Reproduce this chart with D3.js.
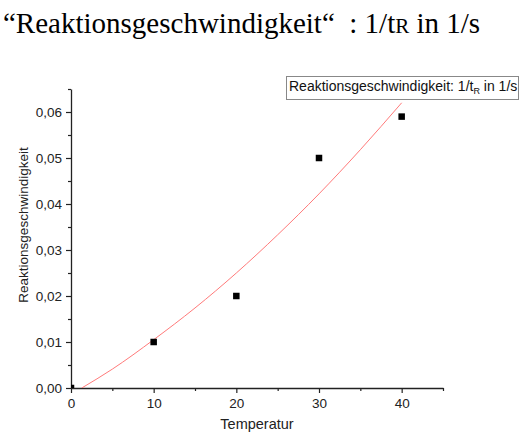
<!DOCTYPE html>
<html>
<head>
<meta charset="utf-8">
<script src="https://cdn.jsdelivr.net/npm/d3@7"></script>
<style>
  body { margin: 0; background: #fff; }
  text { white-space: pre; }
</style>
</head>
<body>
<div id="chart"></div>
<script>
// measured points
const temps = [0, 10, 20, 30, 40];
const rates = [0, 0.01, 0.02, 0.05, 0.059];

// fit curve
const fitT = [1.3, 5, 10, 15, 20, 25, 30, 35, 40];
const fitV = [0, 0.0041, 0.0105, 0.0174, 0.025, 0.0333, 0.0422, 0.0518, 0.062];

const xMajor = [0, 10, 20, 30, 40];
const yMajor = [0, 0.01, 0.02, 0.03, 0.04, 0.05, 0.06];

const W = 520, H = 438;
const mLeft = 71, mRight = 443, mTop = 89, mBottom = 388;

const svg = d3.select("#chart").append("svg")
  .attr("width", W).attr("height", H);

const x = d3.scaleLinear().domain([0, 45]).range([mLeft, mRight]);
const y = d3.scaleLinear().domain([0, 0.065]).range([mBottom, mTop]);

// title
const title = svg.append("text")
  .attr("x", 3).attr("y", 33)
  .style("font-family", "Liberation Serif, Times New Roman, serif")
  .style("font-size", "29px")
  .attr("fill", "#000");
title.append("tspan").text("\u201CReaktionsgeschwindigkeit\u201C  : 1/t");
title.append("tspan").style("font-size", "21px").text("R");
title.append("tspan").text(" in 1/s");

const fmt = d => d3.format(".2f")(d).replace(".", ",");

// minor ticks
const xMinor = d3.range(5, 46, 10);
const yMinor = d3.range(0.005, 0.066, 0.01);

svg.append("g")
  .attr("transform", `translate(0,${mBottom})`)
  .call(d3.axisBottom(x).tickValues(xMinor).tickSize(3).tickFormat(""))
  .call(g => g.select(".domain").remove());
svg.append("g")
  .attr("transform", `translate(${mLeft},0)`)
  .call(d3.axisLeft(y).tickValues(yMinor).tickSize(3).tickFormat(""))
  .call(g => g.select(".domain").remove());

svg.append("g")
  .attr("transform", `translate(0,${mBottom})`)
  .call(d3.axisBottom(x).tickValues(xMajor).tickSize(5).tickSizeOuter(0).tickPadding(5).tickFormat(d3.format("d")));
svg.append("g")
  .attr("transform", `translate(${mLeft},0)`)
  .call(d3.axisLeft(y).tickValues(yMajor).tickSize(5).tickSizeOuter(0).tickPadding(4).tickFormat(fmt));

svg.selectAll(".tick line").attr("stroke", "#222").attr("stroke-width", 1.2);
svg.selectAll(".domain").attr("stroke", "#222").attr("stroke-width", 1.3);
svg.selectAll(".tick text")
  .style("font-family", "Liberation Sans, Arial, sans-serif")
  .style("font-size", "13.5px")
  .attr("fill", "#222");

// axis titles
svg.append("text")
  .attr("x", (mLeft + mRight) / 2).attr("y", 429)
  .attr("text-anchor", "middle")
  .style("font-family", "Liberation Sans, Arial, sans-serif")
  .style("font-size", "14.5px")
  .attr("fill", "#222")
  .text("Temperatur");

svg.append("text")
  .attr("transform", "translate(28,225) rotate(-90)")
  .attr("text-anchor", "middle")
  .style("font-family", "Liberation Sans, Arial, sans-serif")
  .style("font-size", "13.5px")
  .attr("fill", "#222")
  .text("Reaktionsgeschwindigkeit");

// plot clip
svg.append("clipPath").attr("id", "plot")
  .append("rect").attr("x", mLeft).attr("y", mTop - 20)
  .attr("width", mRight - mLeft).attr("height", mBottom - mTop + 20);

const plot = svg.append("g").attr("clip-path", "url(#plot)");

const line = d3.line()
  .x((d, i) => x(fitT[i]))
  .y(d => y(d))
  .curve(d3.curveMonotoneX);

plot.append("path")
  .datum(fitV)
  .attr("d", line)
  .attr("fill", "none")
  .attr("stroke", "#ff7a7a")
  .attr("stroke-width", 1);

const s = 6.5;
plot.selectAll("rect.pt")
  .data(temps)
  .join("rect")
  .attr("class", "pt")
  .attr("x", d => x(d) - s / 2)
  .attr("y", (d, i) => y(rates[i]) - s / 2)
  .attr("width", s).attr("height", s)
  .attr("fill", "#000");

// legend
const lg = svg.append("g");
lg.append("rect")
  .attr("x", 286.5).attr("y", 76.5)
  .attr("width", 232).attr("height", 23)
  .attr("fill", "#fff")
  .attr("stroke", "#888").attr("stroke-width", 1);
const lt = lg.append("text")
  .attr("x", 289).attr("y", 91)
  .style("font-family", "Liberation Sans, Arial, sans-serif")
  .style("font-size", "14px")
  .attr("fill", "#111");
lt.append("tspan").text("Reaktionsgeschwindigkeit: 1/t");
lt.append("tspan").attr("dy", 3).style("font-size", "9px").text("R");
lt.append("tspan").attr("dy", -3).text(" in 1/s");
</script>
</body>
</html>
